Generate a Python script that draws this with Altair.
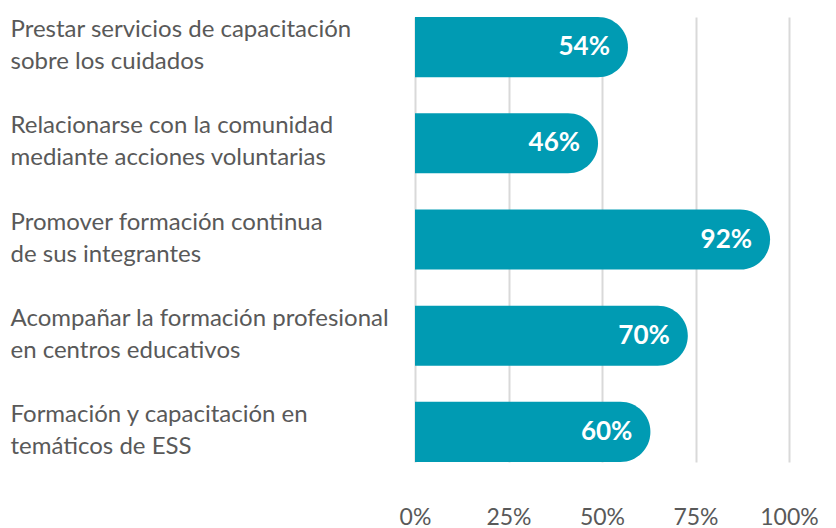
import altair as alt
import pandas as pd

categories = [
    "Prestar servicios de capacitación|sobre los cuidados",
    "Relacionarse con la comunidad|mediante acciones voluntarias",
    "Promover formación continua|de sus integrantes",
    "Acompañar la formación profesional|en centros educativos",
    "Formación y capacitación en|temáticos de ESS",
]
values = [54, 46, 92, 70, 60]
tick_values = [0, 25, 50, 75, 100]

df = pd.DataFrame({"cat": categories, "value": values})
df["label"] = df["value"].astype(str) + "%"
df["zero"] = 0

FONT = "Lato"
BAR = "#009BB3"
GRAY = "#595959"

y_enc = alt.Y(
    "cat:N",
    sort=categories,
    scale=alt.Scale(paddingInner=0.375, paddingOuter=0),
    axis=alt.Axis(
        title=None,
        labelExpr="split(datum.label, '|')",
        labelAlign="left",
        labelBaseline="middle",
        labelPadding=405,
        labelOffset=-17,
        labelFont=FONT,
        labelFontSize=24,
        labelLineHeight=32,
        labelColor=GRAY,
        labelLimit=420,
        ticks=False,
        domain=False,
        grid=False,
    ),
)

x_scale = alt.Scale(domain=[0, 100], nice=False)

bars = alt.Chart(df).mark_bar(
    color=BAR, cornerRadiusTopRight=30, cornerRadiusBottomRight=30, x2Offset=11
).encode(
    x=alt.X(
        "zero:Q",
        scale=x_scale,
        axis=alt.Axis(
            title=None,
            values=tick_values,
            labelExpr="datum.value + '%'",
            labelFont=FONT,
            labelFontSize=23,
            labelColor=GRAY,
            labelPadding=44,
            labelFlush=False,
            ticks=False,
            domain=False,
            grid=True,
            gridColor="#d9d9d9",
            gridWidth=2,
        ),
    ),
    x2="value:Q",
    y=y_enc,
)

text = alt.Chart(df).mark_text(
    align="right", baseline="middle", dx=-7, color="white",
    font=FONT, fontWeight="bold", fontSize=26,
).encode(
    x=alt.X("value:Q", scale=x_scale),
    y=alt.Y("cat:N", sort=categories),
    text="label:N",
)

chart = (bars + text).properties(
    width=374,
    height=445,
    autosize=alt.AutoSizeParams(type="none"),
    padding={"left": 407, "top": 9, "right": 30, "bottom": 66},
).configure_view(stroke=None).configure_axis(gridOpacity=1)

chart.save("out.html", embed_options={"renderer": "svg", "actions": False})
